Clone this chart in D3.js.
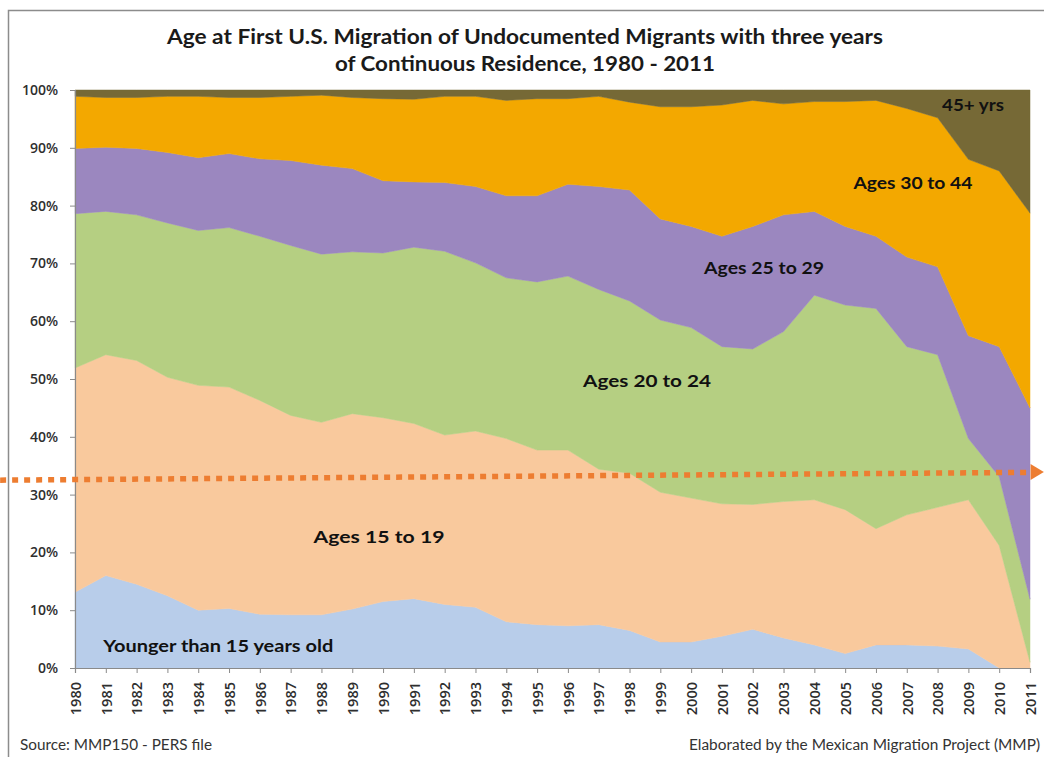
<!DOCTYPE html>
<html>
<head>
<meta charset="utf-8">
<script src="https://cdn.jsdelivr.net/npm/d3@7"></script>
<style>
  body { margin: 0; background: #ffffff; }
  svg { display: block; }
</style>
</head>
<body>
<svg id="chart" width="1044" height="757"></svg>
<script>
// ---------------- DATA ----------------
const years = [1980,1981,1982,1983,1984,1985,1986,1987,1988,1989,1990,1991,1992,1993,1994,1995,
               1996,1997,1998,1999,2000,2001,2002,2003,2004,2005,2006,2007,2008,2009,2010,2011];

const seriesKeys = ["u15", "a15_19", "a20_24", "a25_29", "a30_44", "a45"];
const seriesLabels = ["Younger than 15 years old", "Ages 15 to 19", "Ages 20 to 24",
                      "Ages 25 to 29", "Ages 30 to 44", "45+ yrs"];

// percent of migrants per age group
const under15 = [13.1,16.0,14.5,12.5,10.0,10.3,9.3,9.2,9.2,10.2,11.5,12.0,11.0,10.5,8.0,7.5,
                 7.3,7.5,6.5,4.5,4.5,5.5,6.7,5.2,4.0,2.5,4.0,4.0,3.8,3.3,0.0,0.0];
const ages15to19 = [38.8,38.2,38.7,37.8,38.9,38.3,37.0,34.5,33.3,33.8,31.8,30.3,29.3,30.5,31.7,30.2,
                    30.4,26.9,27.2,25.9,24.9,22.9,21.6,23.6,25.1,24.9,20.1,22.5,24.0,25.8,21.2,1.0];
const ages20to24 = [26.7,24.8,25.2,26.7,26.8,27.6,28.4,29.4,29.1,28.0,28.5,30.5,31.8,29.1,27.8,29.1,
                    30.1,31.1,29.8,29.8,29.5,27.2,26.9,29.4,35.4,35.4,38.1,29.1,26.4,10.6,11.9,10.9];
const ages25to29 = [11.3,11.1,11.5,12.2,12.6,12.8,13.4,14.7,15.4,14.4,12.5,11.3,11.9,13.2,14.2,14.9,
                    15.9,17.8,19.2,17.5,17.5,19.1,21.2,20.2,14.5,13.6,12.5,15.5,15.2,17.8,22.5,33.1];
const ages30to44 = [9.0,8.6,8.8,9.7,10.6,9.7,10.6,11.1,12.1,12.3,14.2,14.3,14.9,15.6,16.5,16.8,
                    14.8,15.6,15.2,19.4,20.7,22.7,21.8,19.2,19.0,21.6,23.5,25.7,25.8,30.5,30.4,33.7];
const ages45plus = [1.1,1.3,1.3,1.1,1.1,1.3,1.3,1.1,0.9,1.3,1.5,1.6,1.1,1.1,1.8,1.5,
                    1.5,1.1,2.1,2.9,2.9,2.6,1.8,2.4,2.0,2.0,1.8,3.2,4.8,12.0,14.0,21.3];

const yTickValues = [0,10,20,30,40,50,60,70,80,90,100];

const titleLines = ["Age at First U.S. Migration  of Undocumented  Migrants with three years",
                    "of Continuous  Residence, 1980 - 2011"];
const sourceText = "Source: MMP150 - PERS file";
const creditText = "Elaborated by the Mexican Migration Project (MMP)";

// label anchor positions in data space (year, percent)
const labelYears = [1984.65, 1989.87, 1998.57, 2002.37, 2007.2, 2009.15];
const labelPcts  = [3.8, 22.7, 49.7, 69.2, 83.9, 97.4];

// ---------------- STYLE ----------------
const colors = ["#B8CDEA", "#F9C99D", "#B5CF82", "#9B87BF", "#F3A800", "#766936"];
const labelWidths = [230, 131, 128, 120, 119, 62];

const W = 1044, H = 757;
const margin = { left: 75, top: 90, right: 14, bottom: 89 };

const svg = d3.select("#chart");

// frame
svg.append("rect")
  .attr("x", 8.5).attr("y", 10.5)
  .attr("width", W + 10).attr("height", H + 10)
  .attr("fill", "#ffffff")
  .attr("stroke", "#8c8c8c").attr("stroke-width", 1.5);

const x = d3.scaleLinear().domain([years[0], years[years.length - 1]])
  .range([margin.left, W - margin.right]);
const y = d3.scaleLinear().domain([0, 100])
  .range([H - margin.bottom, margin.top]);

// build table
const seriesArrays = [under15, ages15to19, ages20to24, ages25to29, ages30to44, ages45plus];
const table = years.map((yr, i) => {
  const row = { year: yr };
  seriesKeys.forEach((k, j) => row[k] = seriesArrays[j][i]);
  return row;
});

const stacked = d3.stack().keys(seriesKeys)(table);

const area = d3.area()
  .x(d => x(d.data.year))
  .y0(d => y(d[0]))
  .y1(d => y(Math.min(100, d[1])))
  .curve(d3.curveLinear);

svg.append("g").selectAll("path")
  .data(stacked)
  .join("path")
  .attr("d", area)
  .attr("fill", (d, i) => colors[i])
  .attr("stroke", (d, i) => colors[i])
  .attr("stroke-width", 0.5);

// axes
const yAxis = d3.axisLeft(y).tickValues(yTickValues).tickFormat(d => d + "%").tickSize(5).tickPadding(12);
const gy = svg.append("g").attr("transform", `translate(${margin.left},0)`).call(yAxis);
gy.select(".domain").attr("stroke", "#8a8a8a").attr("stroke-width", 1.2);
gy.selectAll(".tick line").attr("stroke", "#8a8a8a");
gy.selectAll(".tick text")
  .attr("fill", "#2e2e2e")
  .style("font-family", "'Open Sans', sans-serif")
  .style("font-size", "14px")
  .style("font-weight", "600");

const xAxis = d3.axisBottom(x).tickValues(years).tickFormat(d3.format("d")).tickSize(5);
const gx = svg.append("g").attr("transform", `translate(0,${H - margin.bottom})`).call(xAxis);
gx.select(".domain").attr("stroke", "#8a8a8a").attr("stroke-width", 1.2);
gx.selectAll(".tick line").attr("stroke", "#8a8a8a");
gx.selectAll(".tick text")
  .attr("transform", "rotate(-90)")
  .attr("x", -14).attr("y", 0).attr("dy", "0.36em")
  .style("text-anchor", "end")
  .attr("fill", "#2e2e2e")
  .style("font-family", "'Open Sans', sans-serif")
  .style("font-size", "14.5px")
  .style("font-weight", "600");

// series labels
svg.append("g").selectAll("text")
  .data(seriesLabels)
  .join("text")
  .attr("x", (d, i) => x(labelYears[i]))
  .attr("y", (d, i) => y(labelPcts[i]))
  .attr("dy", "0.35em")
  .attr("text-anchor", "middle")
  .attr("textLength", (d, i) => labelWidths[i])
  .attr("lengthAdjust", "spacingAndGlyphs")
  .style("font-family", "Lato, 'Open Sans', sans-serif")
  .style("font-weight", "700")
  .style("font-size", "17.5px")
  .attr("fill", "#111111")
  .text(d => d);

// title
svg.append("g").selectAll("text")
  .data(titleLines)
  .join("text")
  .attr("x", 525)
  .attr("y", (d, i) => 44 + i * 27)
  .attr("text-anchor", "middle")
  .attr("textLength", (d, i) => i === 0 ? 716 : 380)
  .attr("lengthAdjust", "spacingAndGlyphs")
  .style("font-family", "Lato, 'Open Sans', sans-serif")
  .style("font-weight", "700")
  .style("font-size", "20px")
  .attr("fill", "#1a1a1a")
  .text(d => d);

// footer texts
svg.append("text")
  .attr("x", 20).attr("y", 750)
  .attr("textLength", 192).attr("lengthAdjust", "spacingAndGlyphs")
  .style("font-family", "Lato, 'Open Sans', sans-serif")
  .style("font-size", "14.5px")
  .attr("fill", "#333")
  .text(sourceText);

svg.append("text")
  .attr("x", 1040).attr("y", 750)
  .attr("text-anchor", "end")
  .attr("textLength", 351).attr("lengthAdjust", "spacingAndGlyphs")
  .style("font-family", "Lato, 'Open Sans', sans-serif")
  .style("font-size", "14.5px")
  .attr("fill", "#333")
  .text(creditText);

// dotted arrow annotation (overlay)
const arrowStart = { year: 1977.57, pct: 32.5 };
const arrowEnd = { year: 2011.05, pct: 33.85 };
const arrowTip = { year: 2011.45, pct: 33.9 };
svg.append("line")
  .attr("x1", x(arrowStart.year)).attr("y1", y(arrowStart.pct))
  .attr("x2", x(arrowEnd.year)).attr("y2", y(arrowEnd.pct))
  .attr("stroke", "#ED7D31")
  .attr("stroke-width", 5.5)
  .attr("stroke-dasharray", "6,6");
const tx = x(arrowTip.year), ty = y(arrowTip.pct), bx = x(arrowEnd.year) - 1;
svg.append("path")
  .attr("d", `M${tx},${ty} L${bx},${ty - 8} L${bx},${ty + 8} Z`)
  .attr("fill", "#ED7D31");
</script>
</body>
</html>
